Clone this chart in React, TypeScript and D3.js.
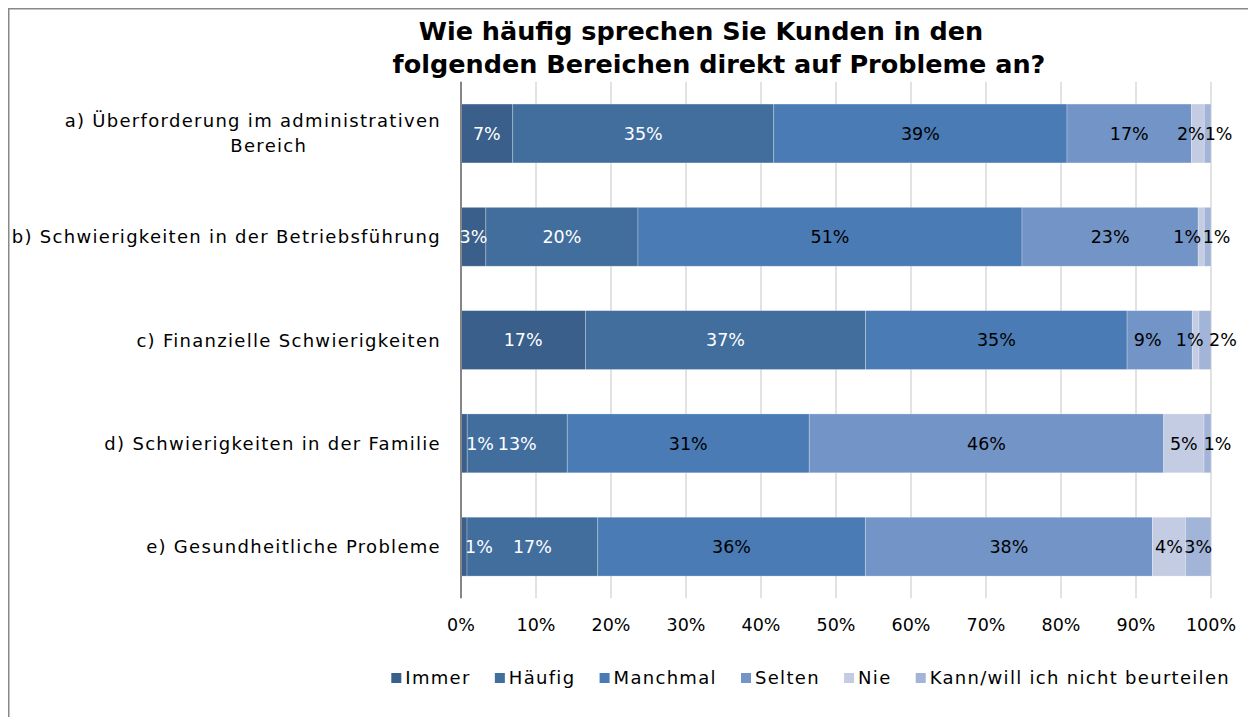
import React from "react";
import * as d3 from "d3";

const categories = [
  "a) Überforderung im administrativen|Bereich",
  "b) Schwierigkeiten in der Betriebsführung",
  "c) Finanzielle Schwierigkeiten",
  "d) Schwierigkeiten in der Familie",
  "e) Gesundheitliche Probleme",
];
const seriesNames = ["Immer", "Häufig", "Manchmal", "Selten", "Nie", "Kann/will ich nicht beurteilen"];
const immer = [6.9, 3.3, 16.6, 0.8, 0.8];
const haeufig = [34.8, 20.2, 37.4, 12.9, 17.4];
const manchmal = [39.1, 51.0, 34.9, 31.2, 35.6];
const selten = [16.6, 23.4, 8.7, 45.7, 38.2];
const nie = [1.7, 0.8, 0.9, 5.2, 4.4];
const kann = [0.9, 0.9, 1.6, 0.9, 3.4];
const xTicks = [0, 0.1, 0.2, 0.3, 0.4, 0.5, 0.6, 0.7, 0.8, 0.9, 1.0];
const titleLines = ["Wie häufig sprechen Sie Kunden in den", "folgenden Bereichen direkt auf Probleme an?"];

// styling
const colors = ["#3a5f8b", "#426e9e", "#4a7bb4", "#7394c6", "#c3cce2", "#a2b4d7"];
const labelColors = ["#ffffff", "#ffffff", "#000000", "#000000", "#000000", "#000000"];
// manual label nudges (px) [row][series]
const nudges: Record<string, number> = {
  "0-4": -7, "0-5": 11,
  "1-4": -14, "1-5": 9,
  "2-3": -12, "2-4": -6, "2-5": 18,
  "3-0": 16, "3-5": 10,
  "4-0": 15,
};

const W = 1248, H = 709;
const FONT = "'DejaVu Sans', sans-serif";
const FS = 18;
const LS = 1.3;
const NFS = 17.5;

function measure(text: string, font: string, ls: number) {
  const c = document.createElement("canvas").getContext("2d")!;
  c.font = font;
  return c.measureText(text).width + ls * text.length;
}

export default function App() {
  const rows = categories.map((c, i) => {
    const r: any = { cat: c };
    const vals = [immer, haeufig, manchmal, selten, nie, kann];
    seriesNames.forEach((s, j) => (r[s] = vals[j][i]));
    return r;
  });
  const stack = d3.stack<any>().keys(seriesNames).offset(d3.stackOffsetExpand)(rows);
  const x = d3.scaleLinear().domain([0, 1]).range([453, 1203]);
  const y = d3.scaleBand<string>().domain(categories).range([73.85, 590.3]).paddingInner(0.43).paddingOuter(0.215);
  const fmt = d3.format(".0%");

  const txtFont = `${FS}px 'DejaVu Sans'`;
  // legend layout
  const sq = 10, gapIn = 4, gapOut = 25.5;
  const widths = seriesNames.map((s) => measure(s, txtFont, LS) - LS);
  const total = widths.reduce((a, b) => a + b + sq + gapIn, 0) + gapOut * (seriesNames.length - 1);
  let lx = 802 - total / 2;
  const legendItems = seriesNames.map((s, i) => {
    const item = { s, x: lx, i };
    lx += sq + gapIn + widths[i] + gapOut;
    return item;
  });

  return (
    <svg width={W} height={H} style={{ display: "block" }} fontFamily={FONT}>
      <rect x={0.75} y={0.75} width={1240} height={730} fill="#fff" stroke="#888" strokeWidth={1.5} />
      {titleLines.map((t, i) => (
        <text key={i} x={i === 0 ? 693 : 711} y={32 + i * 33} textAnchor="middle" fontWeight="bold" fontSize={25.5} fill="#000">
          {t}
        </text>
      ))}
      {xTicks.map((t) => (
        <line key={t} x1={x(t)} x2={x(t)} y1={73.85} y2={590.3} stroke="#d9d9d9" strokeWidth={1.5} />
      ))}
      {stack.map((layer, j) => (
        <g key={layer.key}>
          {layer.map((d, i) => (
            <rect key={i} x={x(d[0])} y={y(categories[i])} width={x(d[1]) - x(d[0])} height={y.bandwidth()} fill={colors[j]} stroke="#ffffff" strokeOpacity={0.35} strokeWidth={0.75} />
          ))}
        </g>
      ))}
      <line x1={453} x2={453} y1={73.85} y2={590.3} stroke="#868686" strokeWidth={2} />
      {stack.map((layer, j) => (
        <g key={"l" + layer.key}>
          {layer.map((d, i) => {
            const raw = rows[i][layer.key] as number;
            const cx = (x(d[0]) + x(d[1])) / 2 + (nudges[`${i}-${j}`] || 0);
            return (
              <text key={i} x={cx} y={y(categories[i])! + y.bandwidth() / 2} dy="0.36em" textAnchor="middle" fontSize={NFS} fill={labelColors[j]}>
                {Math.round(raw) + "%"}
              </text>
            );
          })}
        </g>
      ))}
      {categories.map((c) => {
        const lines = c.split("|");
        const cy = y(c)! + y.bandwidth() / 2;
        if (lines.length === 1)
          return (
            <text key={c} x={433} y={cy} dy="0.36em" textAnchor="end" fontSize={FS} letterSpacing={LS} fill="#000">
              {lines[0]}
            </text>
          );
        const w1 = measure(lines[0], txtFont, LS);
        return (
          <g key={c}>
            <text x={433} y={cy - 12.5} dy="0.36em" textAnchor="end" fontSize={FS} letterSpacing={LS} fill="#000">
              {lines[0]}
            </text>
            <text x={433 - w1 / 2 + 16} y={cy + 12.5} dy="0.36em" textAnchor="middle" fontSize={FS} letterSpacing={LS} fill="#000">
              {lines[1]}
            </text>
          </g>
        );
      })}
      {xTicks.map((t) => (
        <text key={"t" + t} x={x(t)} y={617} dy="0.36em" textAnchor="middle" fontSize={NFS} fill="#000">
          {fmt(t)}
        </text>
      ))}
      {legendItems.map((it) => (
        <g key={it.s}>
          <rect x={it.x} y={670 - 5} width={sq} height={sq} fill={colors[it.i]} />
          <text x={it.x + sq + gapIn} y={670} dy="0.36em" fontSize={FS} letterSpacing={LS} fill="#000">
            {it.s}
          </text>
        </g>
      ))}
    </svg>
  );
}
